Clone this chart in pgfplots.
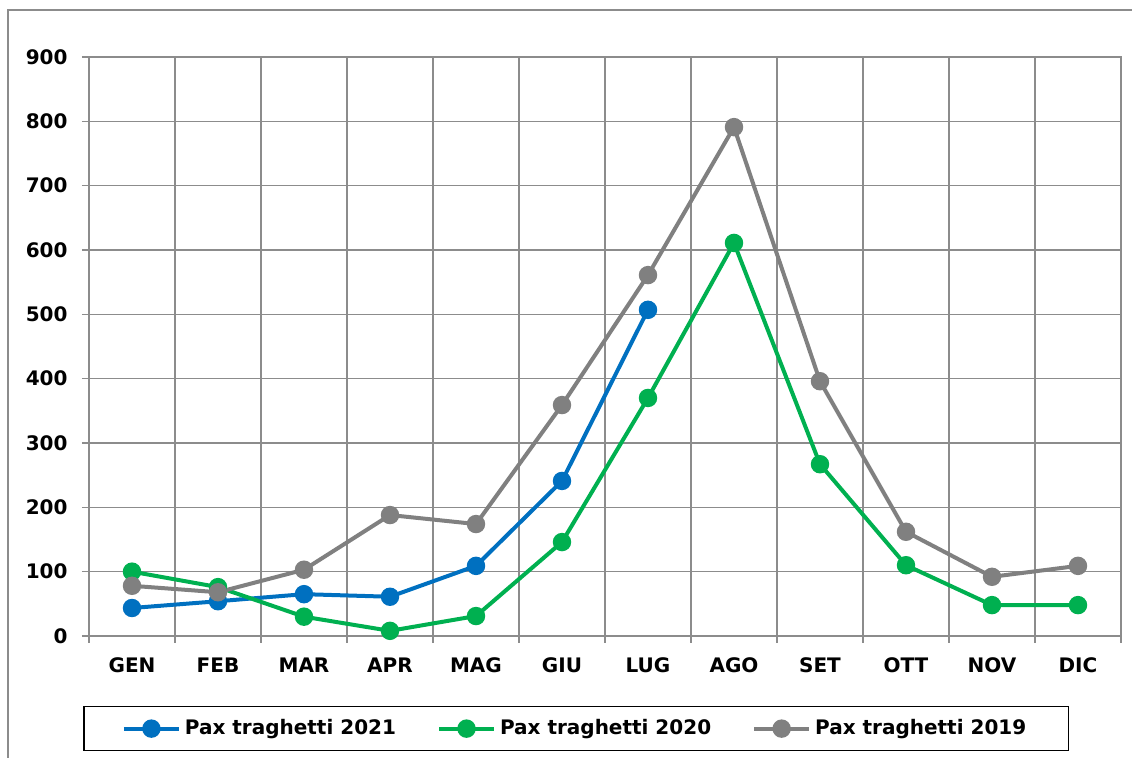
\documentclass[border=0pt]{standalone}
\usepackage{pgfplots}
\pgfplotsset{compat=1.18}
\usepackage{fontspec}
\setmainfont{DejaVu Sans}
\definecolor{cblue}{HTML}{0070C0}
\definecolor{cgreen}{HTML}{00B050}
\definecolor{cgray}{HTML}{808080}
\definecolor{gridc}{HTML}{8C8C8C}
\begin{document}
\begin{tikzpicture}
\path[use as bounding box] (-44.5pt,-61pt) rectangle (521.5pt,318pt);
\draw[gridc, line width=0.75pt] (-40.5pt,-61pt) -- (-40.5pt,313pt) -- (521.5pt,313pt);
\begin{axis}[
  scale only axis, width=516pt, height=289.5pt,
  xmin=0, xmax=12, ymin=0, ymax=900,
  xtick={0.5,1.5,...,11.5},
  xticklabels={GEN,FEB,MAR,APR,MAG,GIU,LUG,AGO,SET,OTT,NOV,DIC},
  minor xtick={0,1,...,12},
  ytick={0,100,...,900},
  xtick pos=bottom, ytick pos=left,
  xminorgrids=true, ymajorgrids=true,
  grid style={gridc, line width=0.75pt},
  minor grid style={gridc, line width=0.75pt},
  axis line style={gridc, line width=0.75pt},
  tick align=outside,
  major tick length=3.5pt, minor tick length=3.5pt,
  major x tick style={draw=none},
  every tick/.style={gridc, line width=0.75pt},
  minor x tick style={gridc, line width=0.75pt},
  /pgf/number format/assume math mode=true,
  ticklabel style={font=\bfseries},
  yticklabel style={xshift=-3.7pt},
  xticklabel style={yshift=-4pt},
  legend style={at={(0.472,-0.16)}, anchor=center, legend columns=3,
    draw=black, line width=0.75pt, font=\bfseries,
    inner xsep=19pt, inner ysep=4.5pt,
    /tikz/every even column/.append style={column sep=18.5pt}},
  legend image code/.code={\draw[#1, mark repeat=2, mark phase=2] plot coordinates {(0pt,0pt) (13.75pt,0pt) (27.5pt,0pt)};},
  every axis plot/.append style={line width=2pt, mark=*, mark size=3.6pt},
]
\addplot[cblue, mark options={fill=cblue, draw=cblue}] coordinates {
(0.5,43.5) (1.5,54) (2.5,65) (3.5,61) (4.5,109) (5.5,241) (6.5,507)};
\addlegendentry{Pax traghetti 2021}
\addplot[cgreen, mark options={fill=cgreen, draw=cgreen}] coordinates {
(0.5,100) (1.5,76) (2.5,30) (3.5,8) (4.5,31) (5.5,146) (6.5,370) (7.5,611) (8.5,267) (9.5,110) (10.5,48) (11.5,48)};
\addlegendentry{Pax traghetti 2020}
\addplot[cgray, mark options={fill=cgray, draw=cgray}] coordinates {
(0.5,78) (1.5,68) (2.5,103) (3.5,188) (4.5,174) (5.5,359) (6.5,561) (7.5,791) (8.5,396) (9.5,162) (10.5,92) (11.5,109)};
\addlegendentry{Pax traghetti 2019}
\end{axis}
\end{tikzpicture}
\end{document}
